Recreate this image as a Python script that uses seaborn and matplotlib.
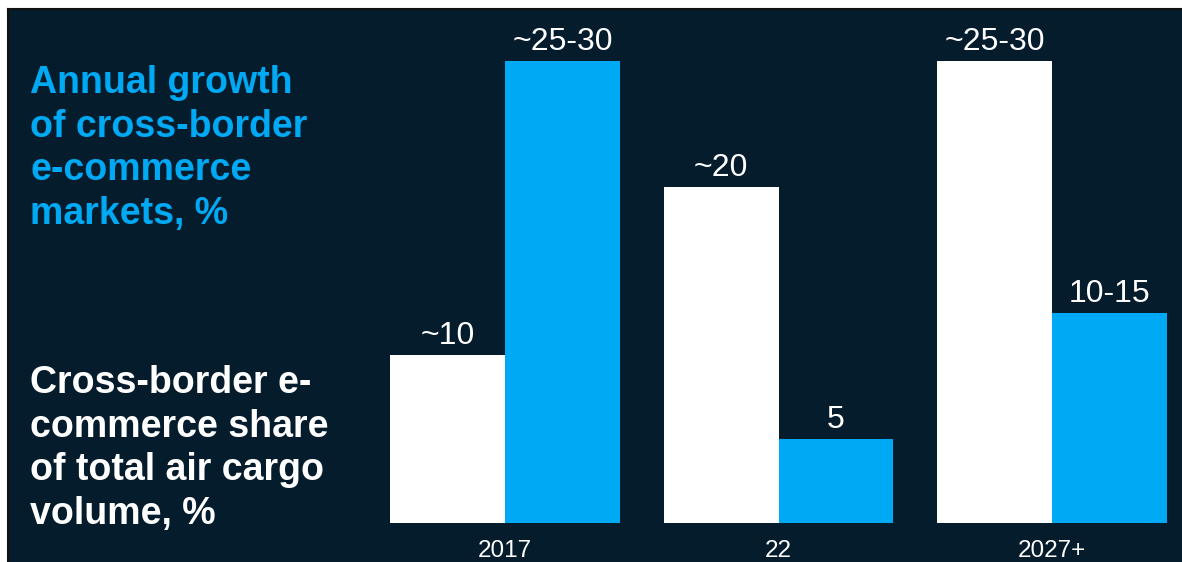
import matplotlib
matplotlib.use("Agg")
import matplotlib.pyplot as plt
import seaborn as sns
import pandas as pd

# ---- data ----
years = ["2017", "22", "2027+"]
share_values = [10, 20, 27.5]          # white bars
growth_values = [27.5, 5, 12.5]        # blue bars
share_labels = ["~10", "~20", "~25-30"]
growth_labels = ["~25-30", "5", "10-15"]
series_names = ["share", "growth"]
growth_title = "Annual growth\nof cross-border\ne-commerce\nmarkets, %"
share_title = "Cross-border e-\ncommerce share\nof total air cargo\nvolume, %"

BG = "#051c2c"
BLUE = "#00a9f4"
WHITE = "#ffffff"

sns.set_theme(style="white")
plt.rcParams["font.family"] = ["Liberation Sans", "DejaVu Sans"]

df = pd.DataFrame({
    "year": years * 2,
    "series": [series_names[0]] * 3 + [series_names[1]] * 3,
    "value": share_values + growth_values,
})

W, H = 1182, 562
fig = plt.figure(figsize=(W / 100, H / 100), dpi=100, facecolor="white")
ax = fig.add_axes([8 / W, 0, (W - 8) / W, (H - 9) / H])
ax.set_facecolor(BG)

sns.barplot(data=df, x="year", y="value", hue="series",
            hue_order=series_names, order=years,
            palette={"share": WHITE, "growth": BLUE},
            width=0.84, saturation=1, linewidth=0, legend=False, ax=ax)

for cont, labs in zip(ax.containers, [share_labels, growth_labels]):
    ax.bar_label(cont, labels=labs, padding=3, fontsize=23, color="white")

ax.set_xlim(-1.817, 2.475)
ax.set_ylim(-2.32, 30.6)
ax.set_xlabel("")
ax.set_ylabel("")
ax.set_yticks([])
ax.tick_params(axis="x", length=0, pad=-16, labelsize=17.5, labelcolor="white")

for s in ["bottom", "right"]:
    ax.spines[s].set_visible(False)
for s in ["left", "top"]:
    ax.spines[s].set_color("#111111")
    ax.spines[s].set_linewidth(1.5)

fig.text(30 / W, 1 - 65 / H, growth_title, color=BLUE, fontsize=27,
         fontweight="bold", va="top", ha="left", linespacing=1.27)
fig.text(30 / W, 1 - 365 / H, share_title, color=WHITE, fontsize=27,
         fontweight="bold", va="top", ha="left", linespacing=1.27)

fig.savefig("out.png", dpi=100, facecolor="white")
